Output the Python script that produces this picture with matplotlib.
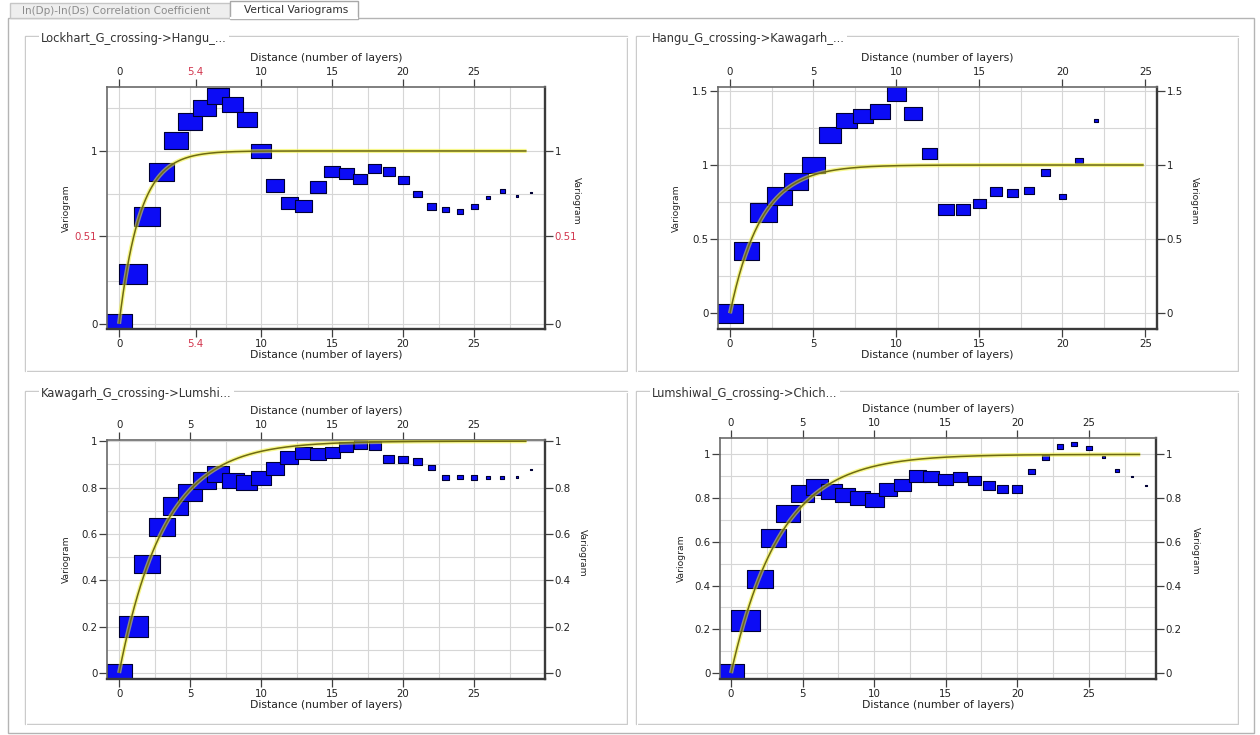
import numpy as np
import matplotlib
matplotlib.use("Agg")
import matplotlib.pyplot as plt
from matplotlib.path import Path
from matplotlib.patches import Rectangle
from matplotlib.transforms import ScaledTranslation

plt.rcParams['font.family'] = ['DejaVu Sans']

W, H, DPI = 1260, 735, 100

# ---------------- data ----------------
tab_names = ["ln(Dp)-ln(Ds) Correlation Coefficient", "Vertical Variograms"]
x_label = "Distance (number of layers)"
y_label = "Variogram"

lockhart_title = "Lockhart_G_crossing->Hangu_..."
lockhart_lag = list(range(30))
lockhart_gamma = [0.0, 0.29, 0.62, 0.88, 1.06, 1.17, 1.25, 1.32, 1.27, 1.18,
                  1.00, 0.80, 0.70, 0.68, 0.79, 0.88, 0.87, 0.84, 0.90, 0.88,
                  0.83, 0.75, 0.68, 0.66, 0.65, 0.68, 0.73, 0.77, 0.74, 0.76]
lockhart_pairs = [260, 280, 260, 250, 235, 235, 225, 220, 215, 205,
                  200, 180, 170, 165, 160, 160, 150, 140, 130, 120,
                  110, 90, 90, 70, 60, 70, 45, 50, 20, 20]
lockhart_sill, lockhart_range = 1.0, 4.4
lockhart_xticks = [0, 5.4, 10, 15, 20, 25]
lockhart_yticks = [0, 0.51, 1]
lockhart_marked_x, lockhart_marked_y = 5.4, 0.51

hangu_title = "Hangu_G_crossing->Kawagarh_..."
hangu_lag = list(range(23))
hangu_gamma = [0.0, 0.42, 0.68, 0.79, 0.89, 1.00, 1.20, 1.30, 1.33, 1.36,
               1.48, 1.35, 1.08, 0.70, 0.70, 0.74, 0.82, 0.81, 0.83, 0.95,
               0.79, 1.03, 1.30]
hangu_pairs = [260, 250, 270, 250, 240, 230, 220, 210, 200, 200,
               190, 180, 150, 160, 140, 130, 120, 110, 100, 90,
               70, 80, 40]
hangu_sill, hangu_range = 1.0, 5.6
hangu_xticks = [0, 5, 10, 15, 20, 25]
hangu_yticks = [0, 0.5, 1, 1.5]

kawagarh_title = "Kawagarh_G_crossing->Lumshi..."
kawagarh_lag = list(range(30))
kawagarh_gamma = [0.0, 0.20, 0.47, 0.63, 0.72, 0.78, 0.83, 0.86, 0.83, 0.82,
                  0.84, 0.88, 0.93, 0.95, 0.945, 0.95, 0.975, 0.985, 0.98, 0.925,
                  0.92, 0.913, 0.886, 0.845, 0.845, 0.843, 0.845, 0.845, 0.845, 0.877]
kawagarh_pairs = [250, 290, 260, 260, 250, 240, 230, 220, 220, 210,
                  200, 180, 180, 170, 160, 150, 140, 130, 120, 110,
                  100, 90, 70, 70, 60, 60, 40, 40, 20, 15]
kawagarh_sill, kawagarh_range = 1.0, 9.6
kawagarh_xticks = [0, 5, 10, 15, 20, 25]
kawagarh_yticks = [0, 0.2, 0.4, 0.6, 0.8, 1]

lumshiwal_title = "Lumshiwal_G_crossing->Chich..."
lumshiwal_lag = list(range(30))
lumshiwal_gamma = [0.0, 0.24, 0.43, 0.62, 0.73, 0.82, 0.85, 0.83, 0.815, 0.80,
                   0.79, 0.84, 0.86, 0.90, 0.90, 0.887, 0.898, 0.88, 0.857, 0.842,
                   0.842, 0.924, 0.987, 1.036, 1.048, 1.03, 0.99, 0.926, 0.90, 0.857]
lumshiwal_pairs = [250, 290, 260, 250, 240, 230, 220, 210, 200, 200,
                   190, 180, 170, 170, 160, 150, 140, 130, 120, 110,
                   100, 70, 70, 60, 60, 60, 30, 40, 20, 15]
lumshiwal_sill, lumshiwal_range = 1.0, 10.3
lumshiwal_xticks = [0, 5, 10, 15, 20, 25]
lumshiwal_yticks = [0, 0.2, 0.4, 0.6, 0.8, 1]

# ---------------- styling ----------------
FS = 7.4
TXT = '#222222'
MARK_RED = '#d2364e'
LINE_GREY = '#b4b4b4'
GRID = '#d6d6d6'

fig = plt.figure(figsize=(W / DPI, H / DPI), dpi=DPI, facecolor='white')
bg = fig.add_axes([0, 0, 1, 1])
bg.set_xlim(0, W)
bg.set_ylim(H, 0)
bg.axis('off')

# tab strip and page frame
bg.add_patch(Rectangle((8, 18), 1246, 715, fc='white', ec=LINE_GREY, lw=1.0))
bg.add_patch(Rectangle((10, 3), 220, 15, fc='#eeeeee', ec='#c6c6c6', lw=1.0))
bg.text(22, 11, tab_names[0], fontsize=7.5, color='#8c8c8c', ha='left', va='center')
bg.add_patch(Rectangle((230, 1), 128, 17.5, fc='white', ec='#a8a8a8', lw=1.0))
bg.plot([231, 357], [18, 18], color='white', lw=1.6)
bg.text(244, 10, tab_names[1], fontsize=7.7, color='#303030', ha='left', va='center')


def px_rect(l, t, r, b):
    return [l / W, 1 - b / H, (r - l) / W, (b - t) / H]


def group_box(l, t, r, b, title):
    bg.add_patch(Rectangle((l, t), r - l, b - t, fc='none', ec='#c8c8c8', lw=1.0))
    bg.add_patch(Rectangle((l + 1, t + 1), r - l, b - t, fc='none', ec='white', lw=0.8))
    bg.text(l + 16, t + 2, title, fontsize=8.3, color='#333333', ha='left', va='center',
            bbox=dict(fc='white', ec='none', pad=1.5))


marker_box = Path([(-0.5, -0.36), (0.5, -0.36), (0.5, 0.36), (-0.5, 0.36), (-0.5, -0.36)],
                  [Path.MOVETO, Path.LINETO, Path.LINETO, Path.LINETO, Path.CLOSEPOLY])


def fmt(v):
    return f"{v:g}"


def variogram_panel(rect, lag, gamma, pairs, sill, rng, h_end, xlim, ylim,
                    xticks, yticks, hgrid, left_off, right_off,
                    marked_x=None, marked_y=None):
    ax = fig.add_axes(px_rect(*rect))
    ax.set_facecolor('white')
    ax.set_xlim(*xlim)
    ax.set_ylim(*ylim)

    # grid
    for gx in np.arange(0, xlim[1], 2.5):
        ax.axvline(gx, color=GRID, lw=0.8, zorder=0.5)
    for gy in hgrid:
        ax.axhline(gy, color=GRID, lw=0.8, zorder=0.5)

    # experimental points, box size by number of pairs
    sizes = (np.asarray(pairs) / 10.0 * 72.0 / DPI) ** 2
    ax.scatter(lag, gamma, s=sizes, marker=marker_box, facecolor='#0c0cf5',
               edgecolor='#000033', linewidths=0.8, zorder=2)

    # exponential model
    h = np.linspace(0, h_end, 400)
    g = sill * (1 - np.exp(-3.0 * h / rng))
    ax.plot(h, g, color='#f2f230', lw=3.0, alpha=0.55, zorder=3, solid_capstyle='butt')
    ax.plot(h, g, color='#6e6a12', lw=1.1, zorder=3.1, solid_capstyle='butt')

    ax.set_xticks(xticks, [fmt(v) for v in xticks])
    ax.set_yticks(yticks, [fmt(v) for v in yticks])
    ax.tick_params(axis='both', direction='out', length=5.5, width=0.9, color='#404040',
                   labelsize=FS, labelcolor=TXT, pad=1.5,
                   top=True, right=True, labeltop=True, labelright=True)

    for tick in ax.xaxis.get_major_ticks():
        if marked_x is not None and np.isclose(tick.get_loc(), marked_x):
            for art in (tick.label1, tick.label2, tick.tick1line, tick.tick2line):
                art.set_color(MARK_RED)
    for tick in ax.yaxis.get_major_ticks():
        if marked_y is not None and np.isclose(tick.get_loc(), marked_y):
            for art in (tick.label1, tick.label2, tick.tick1line, tick.tick2line):
                art.set_color(MARK_RED)

    for side in ('top', 'left'):
        ax.spines[side].set(color='#6a6a6a', lw=1.2)
    for side in ('bottom', 'right'):
        ax.spines[side].set(color='#3a3a3a', lw=1.7)

    ax.set_xlabel(x_label, fontsize=7.8, color=TXT, labelpad=1)
    ax.text(0.5, 1, x_label, fontsize=7.8, color=TXT, ha='center', va='center',
            transform=ax.transAxes + ScaledTranslation(0, 29 / DPI, fig.dpi_scale_trans))
    ax.text(0, 0.5, y_label, fontsize=6.6, color=TXT, ha='center', va='center', rotation=90,
            transform=ax.transAxes + ScaledTranslation(-left_off / DPI, 0, fig.dpi_scale_trans))
    ax.text(1, 0.53, y_label, fontsize=6.6, color=TXT, ha='center', va='center', rotation=270,
            transform=ax.transAxes + ScaledTranslation(right_off / DPI, 0, fig.dpi_scale_trans))
    return ax


group_box(25, 36, 627, 371, lockhart_title)
group_box(636, 36, 1238, 371, hangu_title)
group_box(25, 391, 627, 724, kawagarh_title)
group_box(636, 391, 1238, 724, lumshiwal_title)

variogram_panel((107, 87, 545, 329), lockhart_lag, lockhart_gamma, lockhart_pairs,
                lockhart_sill, lockhart_range, 28.7, (-0.85, 30.0), (-0.03, 1.37),
                lockhart_xticks, lockhart_yticks, [0, 0.25, 0.51, 0.75, 1.0, 1.25],
                41, 31, marked_x=lockhart_marked_x, marked_y=lockhart_marked_y)

variogram_panel((718, 87, 1157, 329), hangu_lag, hangu_gamma, hangu_pairs,
                hangu_sill, hangu_range, 24.9, (-0.72, 25.7), (-0.106, 1.526),
                hangu_xticks, hangu_yticks, [0, 0.25, 0.5, 0.75, 1.0, 1.25, 1.5],
                42, 37)

variogram_panel((107, 440, 545, 679), kawagarh_lag, kawagarh_gamma, kawagarh_pairs,
                kawagarh_sill, kawagarh_range, 28.7, (-0.85, 30.0), (-0.026, 1.005),
                kawagarh_xticks, kawagarh_yticks, np.arange(0, 1.01, 0.1),
                41, 37)

variogram_panel((720, 438, 1156, 679), lumshiwal_lag, lumshiwal_gamma, lumshiwal_pairs,
                lumshiwal_sill, lumshiwal_range, 28.6, (-0.77, 29.7), (-0.027, 1.075),
                lumshiwal_xticks, lumshiwal_yticks, np.arange(0, 1.01, 0.1),
                39, 39)

fig.savefig("out.png", dpi=DPI, facecolor='white')
